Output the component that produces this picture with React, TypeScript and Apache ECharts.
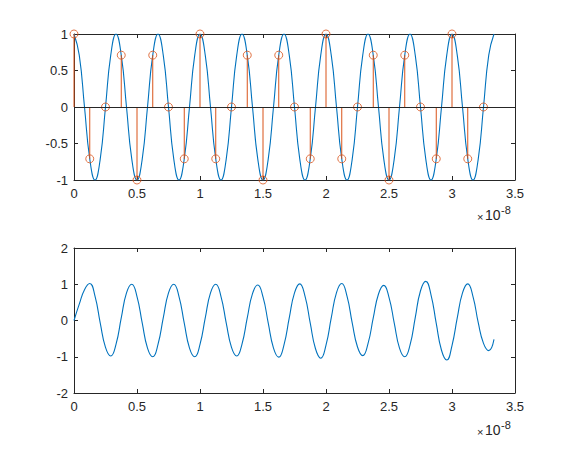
import React, { useEffect, useRef } from "react";
import * as echarts from "echarts";

// Time is expressed in units of 1e-8 s (axis shows "×10^-8").
// Continuous curves are sampled every 1/24 (eighth of a 1/3 period).
const CURVE_STEP = 1 / 24;

// Top plot: continuous cosine (blue)
const topCurve = [
  1, 0.71, 0, -0.71, -1, -0.71, 0, 0.71,
  1, 0.71, 0, -0.71, -1, -0.71, 0, 0.71,
  1, 0.71, 0, -0.71, -1, -0.71, 0, 0.71,
  1, 0.71, 0, -0.71, -1, -0.71, 0, 0.71,
  1, 0.71, 0, -0.71, -1, -0.71, 0, 0.71,
  1, 0.71, 0, -0.71, -1, -0.71, 0, 0.71,
  1, 0.71, 0, -0.71, -1, -0.71, 0, 0.71,
  1, 0.71, 0, -0.71, -1, -0.71, 0, 0.71,
  1, 0.71, 0, -0.71, -1, -0.71, 0, 0.71,
  1, 0.71, 0, -0.71, -1, -0.71, 0, 0.71,
  1,
];

// Top plot: sampled values (orange stems), every 0.125
const STEM_STEP = 0.125;
const stemValues = [
  1, -0.71, 0, 0.71, -1, 0.71, 0, -0.71,
  1, -0.71, 0, 0.71, -1, 0.71, 0, -0.71,
  1, -0.71, 0, 0.71, -1, 0.71, 0, -0.71,
  1, -0.71, 0,
];

// Bottom plot: reconstructed signal (blue)
const bottomCurve = [
  0, 0.45, 0.85, 1.02, 0.67, -0.07, -0.74, -0.98,
  -0.66, 0.07, 0.76, 1.0, 0.66, -0.07, -0.76, -1.0,
  -0.66, 0.07, 0.76, 1.0, 0.66, -0.07, -0.76, -1.0,
  -0.66, 0.07, 0.76, 1.0, 0.66, -0.07, -0.74, -0.98,
  -0.65, 0.07, 0.74, 0.98, 0.65, -0.07, -0.76, -1.01,
  -0.67, 0.07, 0.76, 1.01, 0.67, -0.07, -0.78, -1.04,
  -0.68, 0.07, 0.77, 1.02, 0.67, -0.07, -0.73, -0.97,
  -0.64, 0.07, 0.73, 0.97, 0.64, -0.07, -0.76, -1.0,
  -0.68, 0.08, 0.82, 1.08, 0.71, -0.08, -0.82, -1.09,
  -0.69, 0.07, 0.76, 1.01, 0.66, -0.06, -0.63, -0.83,
  -0.52,
];

const xTicks = { min: 0, max: 3.5, interval: 0.5 };
const topYTicks = { min: -1, max: 1, interval: 0.5 };
const bottomYTicks = { min: -2, max: 2, interval: 1 };

const BLUE = "#0072BD";
const ORANGE = "#D95319";
const AXIS = "#262626";
const FONT = "Liberation Sans";
const FS = 13;

const toPairs = (vals: number[], step: number) => vals.map((v, i) => [i * step, v]);

function mkX(gridIndex: number, position: "bottom" | "top", labels: boolean) {
  return {
    type: "value",
    gridIndex,
    position,
    min: xTicks.min,
    max: xTicks.max,
    interval: xTicks.interval,
    axisLine: { show: true, onZero: false, lineStyle: { color: AXIS, width: 1 } },
    axisTick: { show: true, inside: true, length: 4, lineStyle: { color: AXIS } },
    axisLabel: {
      show: labels,
      color: AXIS,
      fontFamily: FONT,
      fontSize: FS,
      margin: 7,
      formatter: (v: number) => String(Number(v.toFixed(2))),
    },
    splitLine: { show: false },
  };
}

function mkY(gridIndex: number, position: "left" | "right", labels: boolean, t: any) {
  return {
    type: "value",
    gridIndex,
    position,
    min: t.min,
    max: t.max,
    interval: t.interval,
    axisLine: { show: true, onZero: false, lineStyle: { color: AXIS, width: 1 } },
    axisTick: { show: true, inside: true, length: 4, lineStyle: { color: AXIS } },
    axisLabel: {
      show: labels,
      color: AXIS,
      fontFamily: FONT,
      fontSize: FS,
      margin: 6,
      formatter: (v: number) => String(Number(v.toFixed(2))),
    },
    splitLine: { show: false },
  };
}

export default function App() {
  const ref = useRef<HTMLDivElement>(null);
  useEffect(() => {
    if (!ref.current) return;
    const chart = echarts.init(ref.current, undefined, { renderer: "svg" });
    const stemData = toPairs(stemValues, STEM_STEP);
    const expLabel = (y: number) => [
      {
        type: "text",
        x: 477,
        y: y + 3,
        style: { text: "×", fill: AXIS, fontSize: 11, fontFamily: FONT },
      },
      {
        type: "text",
        x: 485,
        y: y,
        style: { text: "10", fill: AXIS, fontSize: 14, fontFamily: FONT },
      },
      {
        type: "text",
        x: 501,
        y: y - 4,
        style: { text: "-8", fill: AXIS, fontSize: 11, fontFamily: FONT },
      },
    ];
    chart.setOption({
      animation: false,
      backgroundColor: "#ffffff",
      grid: [
        { left: 74, top: 34, width: 441, height: 146 },
        { left: 74, top: 248, width: 441, height: 145 },
      ],
      xAxis: [mkX(0, "bottom", true), mkX(0, "top", false), mkX(1, "bottom", true), mkX(1, "top", false)],
      yAxis: [
        mkY(0, "left", true, topYTicks),
        mkY(0, "right", false, topYTicks),
        mkY(1, "left", true, bottomYTicks),
        mkY(1, "right", false, bottomYTicks),
      ],
      graphic: [...expLabel(208), ...expLabel(423)],
      series: [
        {
          type: "line",
          xAxisIndex: 0,
          yAxisIndex: 0,
          data: toPairs(topCurve, CURVE_STEP),
          smooth: 0.5,
          showSymbol: false,
          lineStyle: { color: BLUE, width: 1.1 },
          z: 2,
        },
        {
          type: "custom",
          xAxisIndex: 0,
          yAxisIndex: 0,
          data: stemData,
          encode: { x: 0, y: 1 },
          renderItem: (params: any, api: any) => {
            const x = api.value(0);
            const y = api.value(1);
            const p0 = api.coord([x, 0]);
            const p1 = api.coord([x, y]);
            return {
              type: "line",
              shape: { x1: p0[0], y1: p0[1], x2: p1[0], y2: p1[1] },
              style: { stroke: ORANGE, lineWidth: 1 },
            };
          },
          z: 3,
        },
        {
          type: "scatter",
          xAxisIndex: 0,
          yAxisIndex: 0,
          data: stemData,
          symbol: "circle",
          symbolSize: 8,
          itemStyle: { color: "rgba(0,0,0,0)", borderColor: ORANGE, borderWidth: 1 },
          markLine: {
            silent: true,
            symbol: "none",
            label: { show: false },
            lineStyle: { color: AXIS, width: 1, type: "solid" },
            data: [{ yAxis: 0 }],
          },
          z: 4,
        },
        {
          type: "line",
          xAxisIndex: 2,
          yAxisIndex: 2,
          data: toPairs(bottomCurve, CURVE_STEP),
          smooth: 0.5,
          showSymbol: false,
          lineStyle: { color: BLUE, width: 1.1 },
        },
      ],
    });
    return () => chart.dispose();
  }, []);
  return (
    <div
      ref={ref}
      style={{ position: "fixed", left: 0, top: 0, width: 570, height: 450, background: "#fff" }}
    />
  );
}
